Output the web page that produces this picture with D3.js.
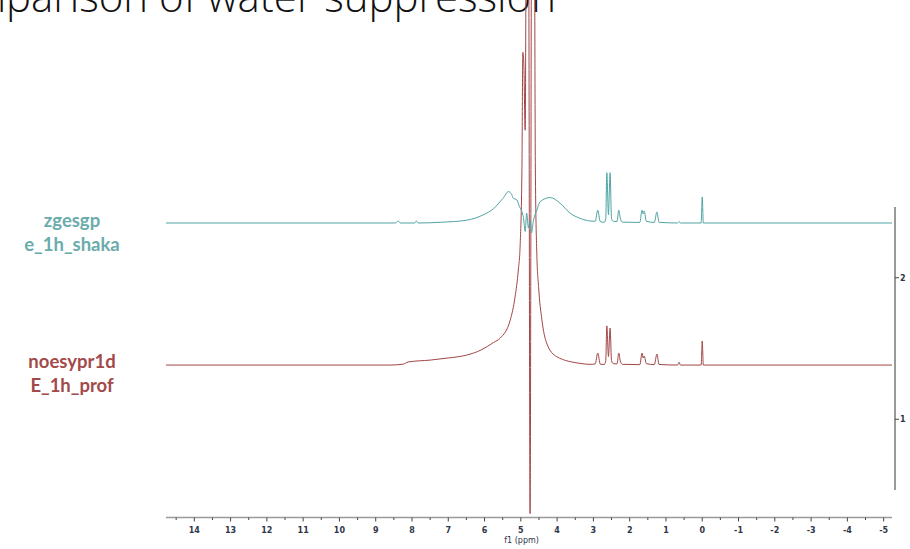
<!DOCTYPE html>
<html>
<head>
<meta charset="utf-8">
<script src="https://cdn.jsdelivr.net/npm/d3@7"></script>
<style>
  body { margin: 0; background: #fff; }
  svg { display: block; }
</style>
</head>
<body>
<div id="chart"></div>
<script>
// NMR water suppression comparison, two stacked 1H spectra

var width = 910;
var height = 549;

// chemical shift axis (ppm), major ticks
var ppmTicks = [14, 13, 12, 11, 10, 9, 8, 7, 6, 5, 4, 3, 2, 1, 0, -1, -2, -3, -4, -5];
var rightTicks = [1, 2];

// stacking offsets of the two traces
var offsetShaka = 2.387;
var offsetProf = 1.383;

// zgesgp / e_1h_shaka : [ppm, intensity]
var shaka = [
  [14.78, 0], [8.45, 0], [8.38, 0.014], [8.32, 0], [7.93, 0], [7.88, 0.014], [7.83, 0],
  [7.22, 0.005], [6.49, 0.02], [6.04, 0.057], [5.76, 0.10], [5.49, 0.175], [5.34, 0.222],
  [5.25, 0.2], [5.21, 0.175], [5.11, 0.163], [5.04, 0.116], [4.97, 0.08], [4.93, 0.04],
  [4.88, -0.06], [4.84, 0.07], [4.79, -0.035], [4.74, 0.02], [4.71, -0.07], [4.65, 0.02],
  [4.56, 0.09], [4.47, 0.15], [4.19, 0.18], [3.92, 0.14], [3.64, 0.069], [3.37, 0.033],
  [3.09, 0.014], [2.95, 0.012], [2.88, 0.09], [2.81, 0.01], [2.70, 0.005], [2.66, 0.03],
  [2.63, 0.355], [2.585, 0.057], [2.54, 0.355], [2.50, 0.03], [2.45, 0.012], [2.35, 0.01],
  [2.30, 0.09], [2.26, 0.035], [2.20, 0.006], [1.72, 0.004], [1.66, 0.09], [1.63, 0.064],
  [1.60, 0.085], [1.54, 0.012], [1.32, 0.004], [1.25, 0.078], [1.19, 0.005], [0.68, 0],
  [0.64, 0.01], [0.60, 0], [0.03, 0], [0, 0.184], [-0.03, 0], [-5.23, 0]
];

// noesypr1d / E_1h_prof : [ppm, intensity]
var prof = [
  [14.78, 0], [8.6, 0], [8.25, 0.006], [8.1, 0.022], [7.5, 0.035], [7.0, 0.05], [6.5, 0.07],
  [6.1, 0.106], [5.75, 0.16], [5.57, 0.19], [5.29, 0.32], [5.16, 0.48], [5.07, 0.67],
  [5.02, 0.84], [4.97, 1.38], [4.945, 2.21], [4.92, 2.15], [4.88, 1.66], [4.845, 3.4],
  [4.79, 3.4], [4.745, -1.05], [4.70, 3.4], [4.63, 3.4], [4.60, 1.4], [4.56, 0.79],
  [4.51, 0.55], [4.42, 0.32], [4.29, 0.156], [4.01, 0.059], [3.37, 0.012], [3.09, 0.005],
  [2.95, 0.008], [2.88, 0.085], [2.81, 0.006], [2.70, 0.004], [2.66, 0.03], [2.63, 0.277],
  [2.585, 0.06], [2.54, 0.262], [2.50, 0.03], [2.45, 0.01], [2.35, 0.008], [2.30, 0.085],
  [2.26, 0.03], [2.20, 0.005], [1.72, 0.003], [1.66, 0.085], [1.63, 0.05], [1.60, 0.064],
  [1.54, 0.01], [1.32, 0.003], [1.25, 0.078], [1.19, 0.004], [0.68, 0], [0.64, 0.02],
  [0.60, 0], [0.03, 0], [0, 0.17], [-0.03, 0], [-5.23, 0]
];

var tealColor = "#4fa5a3";
var redColor = "#a24545";

//////////////////////////////////////////////////////////////////////////////
// scales

var xScale = d3.scaleLinear().domain([14.78, -5.23]).range([166, 892]);
var yScale = d3.scaleLinear().domain([0.5, 2.5]).range([490, 207]);

var svg = d3.select("#chart")
    .append("svg")
    .attr("width", width)
    .attr("height", height);

// title, partly off the canvas as in the slide
svg.append("text")
    .attr("x", 556)
    .attr("y", 12)
    .attr("text-anchor", "end")
    .attr("font-family", "Open Sans")
    .attr("font-weight", 300)
    .attr("font-size", 42)
    .attr("fill", "#111")
    .text("Comparison of water suppression");

//////////////////////////////////////////////////////////////////////////////
// spectra

function makeLine(offset) {
    return d3.line()
        .x(function(d) { return xScale(d[0]); })
        .y(function(d) { return yScale(d[1] + offset); })
        .curve(d3.curveMonotoneX);
}

svg.append("path")
    .datum(prof)
    .attr("fill", "none")
    .attr("stroke", redColor)
    .attr("stroke-width", 1)
    .attr("d", makeLine(offsetProf));

svg.append("path")
    .datum(shaka)
    .attr("fill", "none")
    .attr("stroke", tealColor)
    .attr("stroke-width", 1)
    .attr("d", makeLine(offsetShaka));

//////////////////////////////////////////////////////////////////////////////
// axes

var minorTicks = d3.range(14.5, -5.5, -1);

var xAxis = svg.append("g")
    .attr("transform", "translate(0,517.5)");

xAxis.append("line")
    .attr("x1", 166).attr("x2", 892)
    .attr("stroke", "#9a9a9a")
    .attr("stroke-width", 1.5);

xAxis.selectAll(".minor")
    .data(minorTicks)
    .enter()
    .append("line")
    .attr("class", "minor")
    .attr("x1", d => xScale(d)).attr("x2", d => xScale(d))
    .attr("y1", 0).attr("y2", 2.5)
    .attr("stroke", "#444");

var major = xAxis.selectAll(".major")
    .data(ppmTicks)
    .enter()
    .append("g")
    .attr("class", "major")
    .attr("transform", d => "translate(" + xScale(d) + ",0)");

major.append("line")
    .attr("y1", 0).attr("y2", 4)
    .attr("stroke", "#444");

major.append("text")
    .attr("y", 15)
    .attr("text-anchor", "middle")
    .attr("font-family", "DejaVu Sans")
    .attr("font-size", 8)
    .attr("font-weight", "bold")
    .attr("fill", "#2e3648")
    .text(d => d);

xAxis.append("text")
    .attr("x", xScale(4.98))
    .attr("y", 25)
    .attr("text-anchor", "middle")
    .attr("font-family", "DejaVu Sans")
    .attr("font-size", 8)
    .attr("fill", "#2e3648")
    .text("f1 (ppm)");

var yAxis = svg.append("g")
    .attr("transform", "translate(895,0)");

yAxis.append("line")
    .attr("y1", yScale(2.5)).attr("y2", yScale(0.5))
    .attr("stroke", "#777")
    .attr("stroke-width", 1.5);

var yTick = yAxis.selectAll(".ytick")
    .data(rightTicks)
    .enter()
    .append("g")
    .attr("class", "ytick")
    .attr("transform", d => "translate(0," + yScale(d) + ")");

yTick.append("line")
    .attr("x2", 4)
    .attr("stroke", "#444");

yTick.append("text")
    .attr("x", 5)
    .attr("dy", "0.35em")
    .attr("font-family", "DejaVu Sans")
    .attr("font-size", 8)
    .attr("font-weight", "bold")
    .attr("fill", "#2e3648")
    .text(d => d);

//////////////////////////////////////////////////////////////////////////////
// trace labels

var labels = [
    { lines: ["zgesgp", "e_1h_shaka"], y: 227, color: "#6aacab" },
    { lines: ["noesypr1d", "E_1h_prof"], y: 368, color: "#a24a4a" }
];

labels.forEach(function(l) {
    var t = svg.append("text")
        .attr("x", 72)
        .attr("y", l.y)
        .attr("text-anchor", "middle")
        .attr("font-family", "Lato")
        .attr("font-weight", "bold")
        .attr("font-size", 18.5)
        .attr("fill", l.color);
    l.lines.forEach(function(s, i) {
        t.append("tspan")
            .attr("x", 72)
            .attr("dy", i === 0 ? 0 : 24)
            .text(s);
    });
});
</script>
</body>
</html>
